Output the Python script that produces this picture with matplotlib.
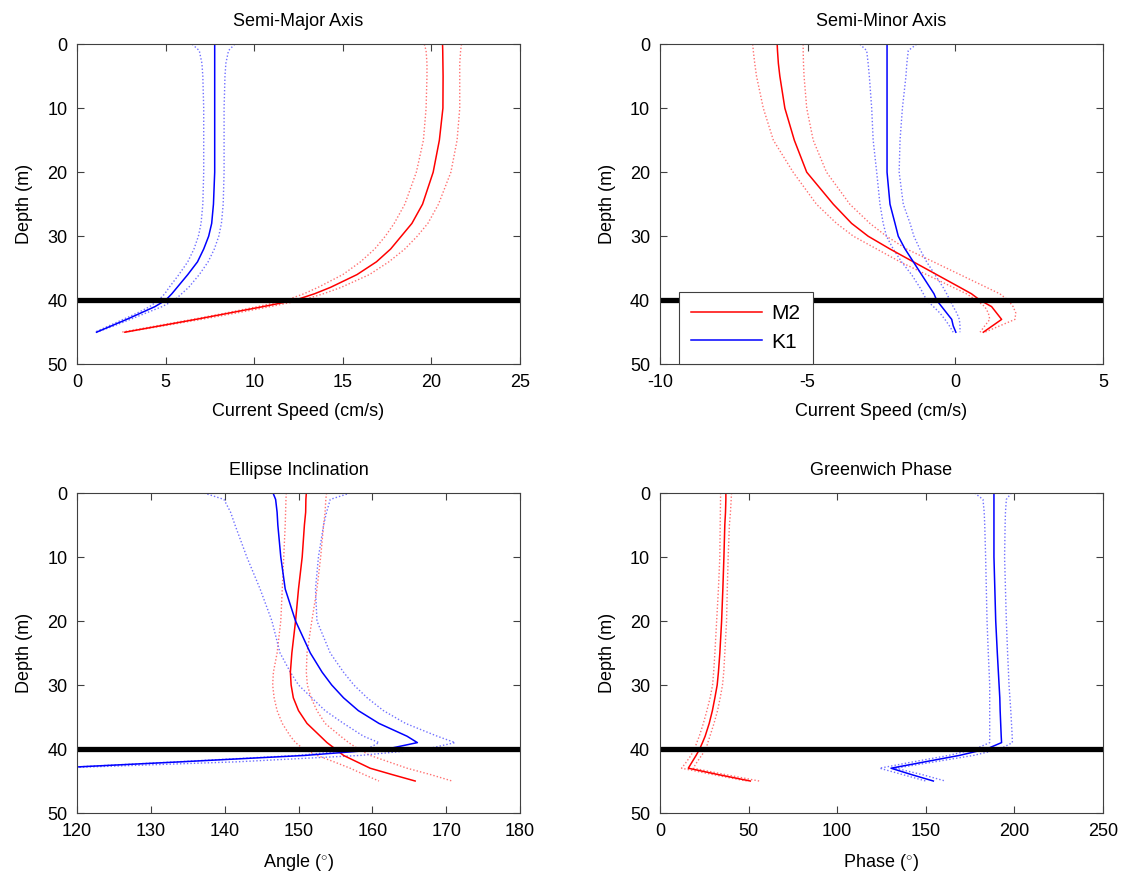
import numpy as np
import matplotlib.pyplot as plt

plt.rcParams['font.family'] = ['Liberation Sans', 'DejaVu Sans']
plt.rcParams['mathtext.fontset'] = 'custom'
plt.rcParams['mathtext.rm'] = 'Liberation Sans'
plt.rcParams['axes.unicode_minus'] = False

# common depth grid (m)
depth = [0, 1, 3, 5, 10, 15, 20, 25, 28, 30, 32, 34, 36, 38, 39, 40, 41, 42, 43, 44, 45]

# Semi-major axis (cm/s)
maj_m2 = [20.63, 20.64, 20.65, 20.66, 20.65, 20.45, 20.1, 19.5, 18.9, 18.3, 17.7, 16.9, 15.8, 14.3, 13.4, 12.3, 10.5, 8.6, 6.7, 4.7, 2.7]
maj_m2_lo = [19.6, 19.7, 19.75, 19.75, 19.7, 19.55, 19.15, 18.5, 17.9, 17.4, 16.8, 16.0, 15.0, 13.6, 12.8, 11.8, 10.2, 8.4, 6.5, 4.5, 2.5]
maj_m2_hi = [21.7, 21.65, 21.6, 21.6, 21.6, 21.45, 21.1, 20.4, 19.8, 19.2, 18.5, 17.6, 16.5, 14.9, 13.9, 12.7, 10.9, 9.0, 7.0, 4.9, 2.7]
maj_k1 = [7.77, 7.77, 7.77, 7.77, 7.77, 7.77, 7.77, 7.7, 7.6, 7.43, 7.15, 6.8, 6.25, 5.65, 5.35, 5.0, 4.4, 3.6, 2.8, 1.95, 1.1]
maj_k1_lo = [6.5, 6.9, 7.05, 7.1, 7.15, 7.15, 7.15, 7.1, 7.0, 6.85, 6.6, 6.25, 5.75, 5.2, 4.95, 4.6, 4.1, 3.4, 2.6, 1.8, 1.0]
maj_k1_hi = [8.9, 8.55, 8.4, 8.35, 8.3, 8.3, 8.3, 8.25, 8.15, 8.0, 7.75, 7.4, 6.9, 6.3, 5.9, 5.5, 4.8, 3.9, 3.0, 2.1, 1.1]

# Semi-minor axis (cm/s)
min_m2 = [-6.03, -6.02, -5.99, -5.94, -5.77, -5.45, -5.03, -4.13, -3.51, -2.95, -2.21, -1.42, -0.63, 0.16, 0.55, 0.84, 1.23, 1.4, 1.57, 1.26, 0.95]
min_m2_lo = [-6.86, -6.84, -6.79, -6.73, -6.5, -6.16, -5.49, -4.7, -4.02, -3.45, -2.66, -1.87, -0.97, -0.07, 0.38, 0.72, 1.0, 1.12, 1.17, 1.0, 0.84]
min_m2_hi = [-5.15, -5.15, -5.14, -5.12, -5.03, -4.81, -4.36, -3.57, -2.89, -2.33, -1.65, -0.74, 0.16, 1.06, 1.51, 1.79, 1.96, 2.05, 2.02, 1.51, 1.0]
min_k1 = [-2.31, -2.31, -2.31, -2.31, -2.31, -2.31, -2.31, -2.21, -2.04, -1.93, -1.7, -1.42, -1.14, -0.86, -0.72, -0.63, -0.46, -0.29, -0.12, -0.07, 0.02]
min_k1_lo = [-3.23, -3.0, -2.95, -2.91, -2.83, -2.78, -2.66, -2.55, -2.44, -2.33, -2.1, -1.82, -1.48, -1.2, -1.08, -0.97, -0.74, -0.52, -0.35, -0.2, -0.07]
min_k1_hi = [-1.31, -1.59, -1.64, -1.67, -1.79, -1.87, -1.9, -1.76, -1.53, -1.4, -1.2, -0.97, -0.69, -0.41, -0.29, -0.18, -0.07, 0.05, 0.14, 0.16, 0.16]

# Ellipse inclination (deg)
inc_m2 = [151.06, 151.0, 150.97, 150.8, 150.5, 150.0, 149.6, 149.1, 148.9, 149.0, 149.3, 150.0, 151.15, 152.96, 153.86, 155.0, 156.1, 157.9, 159.7, 162.7, 165.8]
inc_m2_lo = [148.35, 148.3, 148.25, 148.2, 148.0, 147.8, 147.6, 147.1, 146.6, 146.5, 146.7, 147.1, 147.8, 148.9, 149.6, 150.7, 152.5, 154.8, 157.0, 158.9, 160.9]
inc_m2_hi = [153.8, 153.7, 153.6, 153.4, 153.0, 152.5, 151.8, 151.15, 151.06, 151.2, 151.7, 152.5, 153.6, 155.7, 156.8, 158.1, 159.7, 162.2, 164.7, 167.9, 170.8]
inc_k1 = [146.55, 146.9, 147.1, 147.2, 147.6, 148.2, 149.6, 151.6, 153.2, 154.5, 156.1, 158.1, 160.9, 164.7, 166.1, 162.0, 150.9, 134.1, 116.5, np.nan, np.nan]
inc_k1_lo = [137.2, 139.9, 140.8, 141.4, 143.0, 144.8, 146.4, 147.5, 148.9, 150.0, 151.8, 153.6, 156.1, 158.8, 160.9, 159.3, 149.8, 133.5, 116.4, np.nan, np.nan]
inc_k1_hi = [157.0, 154.3, 153.8, 153.4, 152.7, 152.3, 152.5, 154.3, 156.1, 157.5, 159.3, 161.5, 164.5, 168.8, 171.2, 167.4, 158.4, 141.7, 116.8, np.nan, np.nan]

# Greenwich phase (deg)
pha_m2 = [37.2, 37.2, 37.0, 36.6, 36.1, 35.5, 34.8, 33.8, 33.0, 32.3, 31.0, 29.6, 27.8, 25.5, 24.0, 22.4, 20.4, 18.2, 16.0, 33.0, 51.0]
pha_m2_lo = [34.2, 34.2, 34.1, 34.0, 33.8, 33.0, 32.0, 31.0, 30.3, 29.7, 28.3, 26.5, 24.5, 22.2, 20.8, 19.5, 17.5, 15.0, 12.2, 30.0, 48.9]
pha_m2_hi = [40.4, 40.2, 39.8, 39.2, 38.5, 38.0, 37.6, 36.6, 36.0, 35.3, 34.0, 32.5, 30.5, 28.2, 27.0, 26.0, 23.5, 21.0, 18.8, 37.0, 56.0]
pha_k1 = [188.5, 188.5, 188.5, 188.5, 188.5, 189.0, 189.5, 190.4, 191.0, 191.4, 191.8, 192.0, 192.3, 192.6, 192.8, 184.3, 169.0, 149.6, 130.4, 142.0, 154.3]
pha_k1_lo = [177.6, 182.3, 183.0, 183.3, 183.8, 184.2, 184.6, 185.3, 185.8, 186.1, 186.1, 186.1, 186.1, 186.1, 186.1, 178.0, 163.0, 143.0, 124.0, 137.0, 150.0]
pha_k1_hi = [198.3, 195.5, 195.0, 194.8, 194.5, 195.0, 195.5, 196.2, 196.7, 197.0, 197.5, 198.0, 198.4, 198.8, 198.9, 192.0, 177.0, 155.0, 133.0, 148.0, 161.0]

panels = [
    ("Semi-Major Axis", "Current Speed (cm/s)", (0, 25), [0, 5, 10, 15, 20, 25],
     maj_m2, maj_m2_lo, maj_m2_hi, maj_k1, maj_k1_lo, maj_k1_hi),
    ("Semi-Minor Axis", "Current Speed (cm/s)", (-10, 5), [-10, -5, 0, 5],
     min_m2, min_m2_lo, min_m2_hi, min_k1, min_k1_lo, min_k1_hi),
    ("Ellipse Inclination", r"Angle ($^{\circ}$)", (120, 180), [120, 130, 140, 150, 160, 170, 180],
     inc_m2, inc_m2_lo, inc_m2_hi, inc_k1, inc_k1_lo, inc_k1_hi),
    ("Greenwich Phase", r"Phase ($^{\circ}$)", (0, 250), [0, 50, 100, 150, 200, 250],
     pha_m2, pha_m2_lo, pha_m2_hi, pha_k1, pha_k1_lo, pha_k1_hi),
]

fig = plt.figure(figsize=(11.26, 8.84), dpi=100)
positions = [[0.0684, 0.588, 0.3934, 0.362], [0.5861, 0.588, 0.3934, 0.362],
             [0.0684, 0.0803, 0.3934, 0.362], [0.5861, 0.0803, 0.3934, 0.362]]

dots = (0, (1, 1.5))
for pos, p in zip(positions, panels):
    title, xlab, xlim, xt, m2, m2lo, m2hi, k1, k1lo, k1hi = p
    ax = fig.add_axes(pos)
    ax.plot(m2lo, depth, linestyle=dots, color='#ff7070', lw=1)
    ax.plot(m2hi, depth, linestyle=dots, color='#ff7070', lw=1)
    ax.plot(k1lo, depth, linestyle=dots, color='#7070ff', lw=1)
    ax.plot(k1hi, depth, linestyle=dots, color='#7070ff', lw=1)
    l1, = ax.plot(m2, depth, '-', color='red', lw=1.1, label='M2')
    l2, = ax.plot(k1, depth, '-', color='blue', lw=1.1, label='K1')
    ax.axhline(40, color='black', lw=3.8)
    ax.set_xlim(xlim)
    ax.set_ylim(50, 0)
    ax.set_xticks(xt)
    ax.set_yticks([0, 10, 20, 30, 40, 50])
    ax.tick_params(direction='in', top=True, right=True, labelsize=13, length=5,
                   color='#404040', pad=7)
    for s in ax.spines.values():
        s.set_color('#404040')
    ax.set_title(title, fontsize=13, pad=13)
    ax.set_xlabel(xlab, fontsize=13, labelpad=9)
    ax.set_ylabel("Depth (m)", fontsize=13, labelpad=10)
    if title == "Semi-Minor Axis":
        leg = ax.legend(handles=[l1, l2], loc='lower left', bbox_to_anchor=(0.043, 0.0),
                        fontsize=15, fancybox=False, edgecolor='#404040', framealpha=1,
                        handlelength=3.4, borderaxespad=0, borderpad=0.6,
                        labelspacing=0.45, handletextpad=0.45)
        leg.get_frame().set_linewidth(0.8)

fig.savefig('out.png', dpi=100)
